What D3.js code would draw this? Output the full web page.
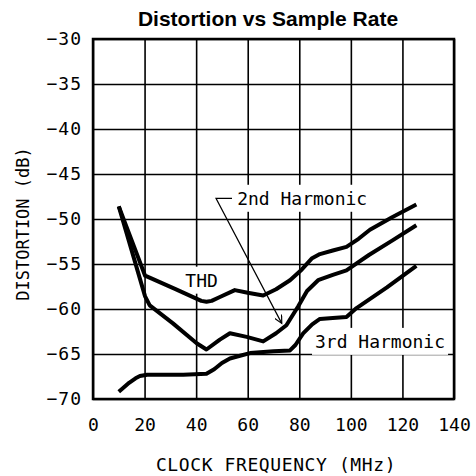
<!DOCTYPE html>
<html>
<head>
<meta charset="utf-8">
<script src="https://cdn.jsdelivr.net/npm/d3@7"></script>
<style>
  html, body { margin: 0; padding: 0; background: #fff; }
  svg { display: block; }
</style>
</head>
<body>
<svg id="chart" width="476" height="476"></svg>
<script>
// ---- data ----
const xTicks = [0, 20, 40, 60, 80, 100, 120, 140];
const yTicks = [-70, -65, -60, -55, -50, -45, -40, -35, -30];

const thdFreq = [10, 20.2, 32, 42, 44, 46, 49, 55, 60, 66, 71, 76.4, 81, 84.8, 88, 93, 98.3, 103, 107.4, 116, 125.4];
const thdDist = [-48.6, -56.3, -57.8, -59.1, -59.2, -59.1, -58.7, -57.9, -58.2, -58.5, -57.8, -56.8, -55.6, -54.4, -53.9, -53.5, -53.1, -52.2, -51.2, -49.8, -48.4];

const h2Freq = [10, 20.2, 22, 31, 40.2, 44, 49.2, 53.1, 59.6, 66, 71, 75, 79.6, 83, 87.3, 93, 98.3, 107, 116, 125.4];
const h2Dist = [-48.6, -58.6, -59.6, -61.6, -63.8, -64.5, -63.4, -62.7, -63.1, -63.6, -62.7, -61.8, -59.7, -58.0, -56.8, -56.2, -55.7, -54.0, -52.4, -50.7];

const h3Freq = [10, 14, 16.5, 18.2, 21, 24.7, 35, 44, 47, 50, 53.1, 57, 60.9, 70, 76.4, 78.5, 81.5, 85, 88, 93, 98.3, 102.2, 114, 125.4];
const h3Dist = [-69.2, -68.2, -67.7, -67.45, -67.3, -67.3, -67.3, -67.2, -66.7, -66.0, -65.5, -65.2, -64.9, -64.7, -64.6, -64.0, -62.7, -61.7, -61.1, -61.0, -60.9, -59.9, -57.6, -55.2];

const title = "Distortion vs Sample Rate";
const xTitle = "CLOCK FREQUENCY (MHz)";
const yTitle = "DISTORTION (dB)";
const labelTHD = { text: "THD", x: 42.1, y: -56.8 };
const label2nd = { text: "2nd Harmonic", x: 55.9, y: -47.7 };
const label3rd = { text: "3rd Harmonic", x: 86.1, y: -63.6 };
// leader: start, horizontal end, arrow tip (data units)
const leaderStart = [47.7, -47.7];
const leaderHEnd = [53.9, -47.7];
const leaderTip = [73.2, -61.6];

// ---- layout ----
const svg = d3.select("#chart");
const L = 93, R = 454, T = 39, B = 399;
const x = d3.scaleLinear().domain([0, 140]).range([L, R]);
const y = d3.scaleLinear().domain([-70, -30]).range([B, T]);
const mono = "'DejaVu Sans Mono', monospace";

// grid via axes
const gx = svg.append("g").attr("transform", `translate(0,${B})`)
  .call(d3.axisBottom(x).tickValues(xTicks).tickSize(-(B - T)).tickPadding(19).tickFormat(d3.format("d")));
const gy = svg.append("g").attr("transform", `translate(${L},0)`)
  .call(d3.axisLeft(y).tickValues(yTicks).tickSize(-(R - L)).tickPadding(11)
    .tickFormat(d => (d < 0 ? "\u2212" : "") + Math.abs(d)));
[gx, gy].forEach(g => {
  g.select(".domain").remove();
  g.selectAll(".tick line").attr("stroke", "#000").attr("stroke-width", 1.6);
  g.selectAll(".tick text").attr("fill", "#000").attr("font-family", mono).attr("font-size", 18);
});
gy.selectAll(".tick text").attr("letter-spacing", 1);
gx.selectAll(".tick text").attr("dy", "0.71em");

// label boxes (white, hiding grid)
function addLabel(lbl, anchor) {
  const t = svg.append("text")
    .attr("x", x(lbl.x)).attr("y", y(lbl.y))
    .attr("dy", "0.36em")
    .attr("text-anchor", anchor)
    .attr("font-family", mono).attr("font-size", 18).attr("fill", "#000")
    .text(lbl.text);
  const bb = t.node().getBBox();
  svg.insert("rect", () => t.node())
    .attr("x", bb.x - 3).attr("y", bb.y - 3)
    .attr("width", bb.width + 6).attr("height", bb.height + 6)
    .attr("fill", "#fff");
}
addLabel(labelTHD, "middle");
addLabel(label2nd, "start");
addLabel(label3rd, "start");

// curves
const line = d3.line().x(d => x(d[0])).y(d => y(d[1])).curve(d3.curveLinear);
const series = [
  d3.zip(thdFreq, thdDist),
  d3.zip(h2Freq, h2Dist),
  d3.zip(h3Freq, h3Dist)
];
svg.append("g").selectAll("path").data(series).join("path")
  .attr("d", line)
  .attr("fill", "none").attr("stroke", "#000")
  .attr("stroke-width", 4).attr("stroke-linejoin", "round");

// plot border
svg.append("rect").attr("x", L).attr("y", T).attr("width", R - L).attr("height", B - T)
  .attr("fill", "none").attr("stroke", "#000").attr("stroke-width", 2.5);

// leader and arrow
svg.append("defs").append("marker")
  .attr("id", "arr").attr("viewBox", "0 0 10 10").attr("refX", 10).attr("refY", 5)
  .attr("markerWidth", 12).attr("markerHeight", 8).attr("markerUnits", "userSpaceOnUse")
  .attr("orient", "auto")
  .append("path").attr("d", "M0,0 L10,5 L0,10").attr("fill", "none").attr("stroke", "#000").attr("stroke-width", 1.5);
svg.append("path")
  .attr("d", d3.line()([[x(leaderHEnd[0]), y(leaderHEnd[1])], [x(leaderStart[0]), y(leaderStart[1])], [x(leaderTip[0]), y(leaderTip[1])]]))
  .attr("fill", "none").attr("stroke", "#000").attr("stroke-width", 1.2)
  .attr("marker-end", "url(#arr)");

// titles
svg.append("text").attr("x", 268).attr("y", 26).attr("text-anchor", "middle")
  .attr("font-family", "'Liberation Sans', Arial, sans-serif").attr("font-weight", "bold")
  .attr("font-size", 21).attr("fill", "#000").text(title);
svg.append("text").attr("x", 276).attr("y", 471).attr("text-anchor", "middle")
  .attr("font-family", mono).attr("font-size", 18).attr("letter-spacing", 0.6).attr("fill", "#000").text(xTitle);
svg.append("text").attr("transform", "translate(29,224) rotate(-90)").attr("text-anchor", "middle")
  .attr("font-family", mono).attr("font-size", 17).attr("fill", "#000").text(yTitle);
</script>
</body>
</html>
